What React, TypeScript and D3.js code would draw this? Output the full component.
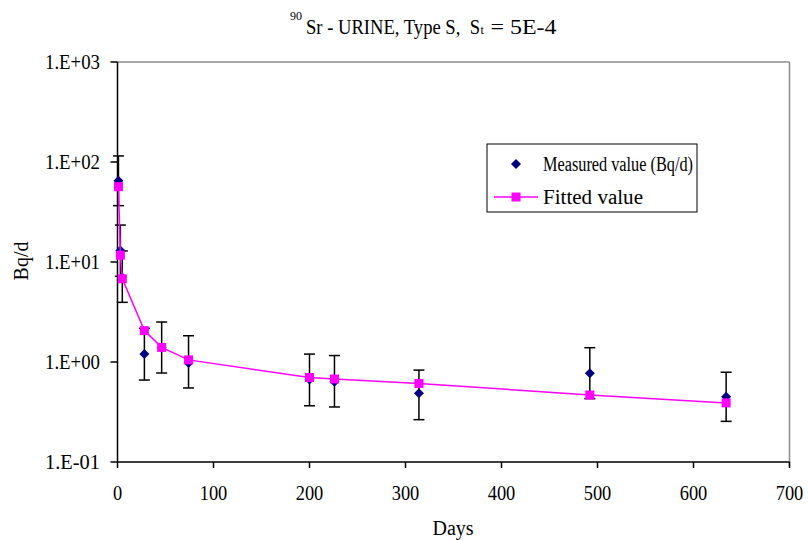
import React from 'react';
import * as d3 from 'd3';

const days = [1, 3, 5, 28, 46, 74, 200, 226, 314, 492, 634];
const measured = [65, 13, 7.0, 1.2, 1.39, 0.98, 0.67, 0.635, 0.486, 0.77, 0.45];
const errUpper = [115, 23.4, 12.9, 2.17, 2.51, 1.83, 1.2, 1.16, 0.83, 1.39, 0.79];
const errLower = [36.6, 7.2, 3.95, 0.66, 0.776, 0.55, 0.365, 0.355, 0.265, 0.43, 0.255];
const fitted = [56.6, 11.7, 6.8, 2.06, 1.4, 1.05, 0.7, 0.676, 0.61, 0.468, 0.39];

const xTicks = [0, 100, 200, 300, 400, 500, 600, 700];
const yTicks = [0.1, 1, 10, 100, 1000];
const yTickLabels = ['1.E-01', '1.E+00', '1.E+01', '1.E+02', '1.E+03'];

const seriesNames = ['Measured value (Bq/d)', 'Fitted value'];
const xTitle = 'Days';
const yTitle = 'Bq/d';

const FONT = "'Liberation Serif', 'Times New Roman', serif";
const W = 808;
const H = 540;
const L = 117.5;
const R = 789.5;
const T = 62;
const B = 462;

const txt = { fontFamily: FONT, fill: '#000' } as React.CSSProperties;

export default function App() {
  const x = d3.scaleLinear().domain([0, 700]).range([L, R]);
  const y = d3.scaleLog().domain([0.1, 1000]).range([B, T]);
  const line = d3
    .line<number>()
    .x((_, i) => x(days[i]))
    .y((d) => y(d));

  const diamond = (cx: number, cy: number, r = 5) =>
    `M${cx},${cy - r}L${cx + r},${cy}L${cx},${cy + r}L${cx - r},${cy}Z`;

  return (
    <svg
      width={W}
      height={H}
      style={{ position: 'absolute', left: 0, top: 0, background: '#fff' }}
    >
      <rect x={0} y={0} width={W} height={H} fill="#fff" />
      {/* title */}
      <text x={290} y={20} fontSize={12} style={txt}>90</text>
      <text x={306} y={34} fontSize={21} style={txt} textLength={174} lengthAdjust="spacingAndGlyphs">
        {'Sr - URINE, Type S,\u00A0 S'}
      </text>
      <text x={480.5} y={34} fontSize={12} style={txt}>t</text>
      <text x={490.5} y={34} fontSize={21} style={txt} textLength={66} lengthAdjust="spacingAndGlyphs">
        = 5E-4
      </text>

      {/* plot frame top/right */}
      <line x1={L} x2={R} y1={T} y2={T} stroke="#8c8c8c" strokeWidth={1.5} />
      <line x1={R} x2={R} y1={T} y2={B + 4} stroke="#8c8c8c" strokeWidth={1.5} />

      {/* axes */}
      <line x1={L} x2={L} y1={T} y2={B} stroke="#000" strokeWidth={1.5} />
      <line x1={L} x2={R} y1={B} y2={B} stroke="#000" strokeWidth={1.5} />
      {yTicks.map((t, i) => (
        <g key={'y' + i}>
          <line x1={L - 7} x2={L} y1={y(t)} y2={y(t)} stroke="#000" strokeWidth={1.5} />
          <text x={100} y={y(t) + 7} fontSize={20} textAnchor="end" style={txt} textLength={55} lengthAdjust="spacingAndGlyphs">
            {yTickLabels[i]}
          </text>
        </g>
      ))}
      {xTicks.map((t, i) => {
        const s = String(t);
        return (
          <g key={'x' + i}>
            <line x1={x(t)} x2={x(t)} y1={B} y2={B + 6} stroke="#000" strokeWidth={1.5} />
            <text
              x={x(t) - (s.length * 9.2) / 2}
              y={500}
              fontSize={21}
              style={txt}
              textLength={s.length * 9.2}
              lengthAdjust="spacingAndGlyphs"
            >
              {s}
            </text>
          </g>
        );
      })}
      <text x={453} y={535} fontSize={20} textAnchor="middle" style={txt}>
        {xTitle}
      </text>
      <text transform="translate(28,261) rotate(-90)" fontSize={20} textAnchor="middle" style={txt}>
        {yTitle}
      </text>

      {/* error bars */}
      {days.map((d, i) => (
        <g key={'e' + i} stroke="#000" strokeWidth={1.5}>
          <line x1={x(d)} x2={x(d)} y1={y(errUpper[i])} y2={y(errLower[i])} />
          <line x1={x(d) - 5.5} x2={x(d) + 5.5} y1={y(errUpper[i])} y2={y(errUpper[i])} />
          <line x1={x(d) - 5.5} x2={x(d) + 5.5} y1={y(errLower[i])} y2={y(errLower[i])} />
        </g>
      ))}
      {/* measured diamonds */}
      {days.map((d, i) => (
        <path key={'m' + i} d={diamond(x(d), y(measured[i]))} fill="#000080" />
      ))}
      {/* fitted line */}
      <path d={line(fitted) || ''} fill="none" stroke="#ff00ff" strokeWidth={1.5} />
      {days.map((d, i) => (
        <rect
          key={'f' + i}
          x={x(d) - 4.5}
          y={y(fitted[i]) - 4.5}
          width={9}
          height={9}
          fill="#ff00ff"
        />
      ))}

      {/* legend */}
      <rect x={487} y={144} width={210} height={68} fill="#fff" stroke="#000" strokeWidth={1} />
      <path d={diamond(516, 164)} fill="#000080" />
      <text x={543} y={171} fontSize={20} style={txt} textLength={150} lengthAdjust="spacingAndGlyphs">
        {seriesNames[0]}
      </text>
      <line x1={494} x2={538} y1={197} y2={197} stroke="#ff00ff" strokeWidth={1.5} />
      <rect x={511.5} y={192.5} width={9} height={9} fill="#ff00ff" />
      <text x={543} y={204} fontSize={20} style={txt} textLength={100} lengthAdjust="spacingAndGlyphs">
        {seriesNames[1]}
      </text>
    </svg>
  );
}
